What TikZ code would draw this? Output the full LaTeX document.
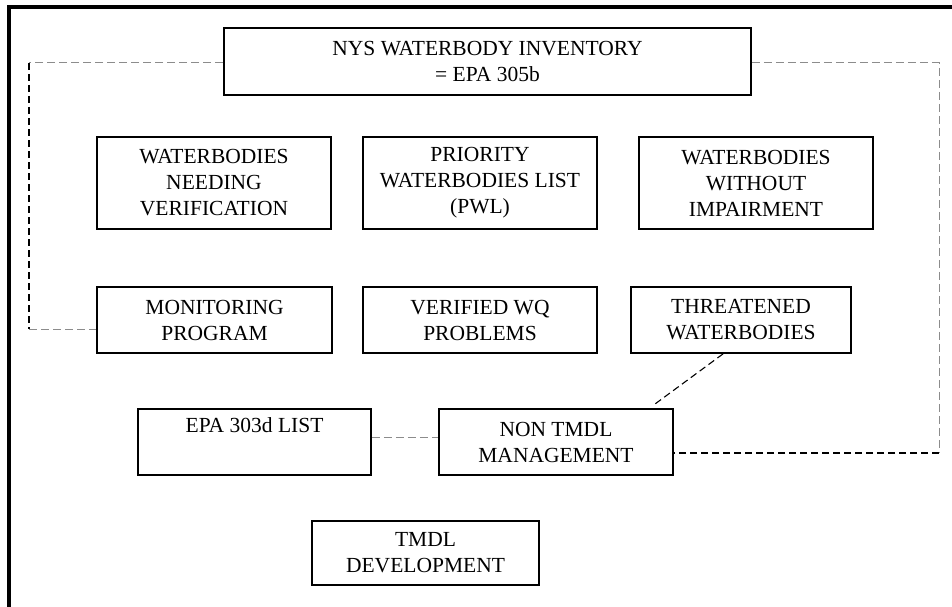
\documentclass[tikz,border=0pt]{standalone}
\usepackage{fontspec}
\setmainfont{Liberation Serif}
\begin{document}
\begin{tikzpicture}[x=1pt,y=-1pt,
  box/.style={draw=black,line width=1.8pt,rectangle,inner sep=0pt,align=center,
    font=\fontsize{21.5}{26}\selectfont},
  gconn/.style={draw=black!45,line width=1pt,dash pattern=on 8pt off 4pt},
  kconn/.style={draw=black,line width=1.1pt,dash pattern=on 7pt off 4pt},
  frame/.style={draw=black,line width=4pt}]
\useasboundingbox (0,0) rectangle (952,607);
% frame
\coordinate (fTL) at (9,7);
\coordinate (fTR) at (952,7);
\coordinate (fBL) at (9,607);
\draw[frame] (fTR) -- (fTL) -- (fBL);
% boxes
\node[box,minimum width=527,minimum height=67] (nys) at (487.5,61.5) {NYS WATERBODY INVENTORY\\= EPA 305b};
\node[box,minimum width=234,minimum height=92] (need) at (214,183) {WATERBODIES\\NEEDING\\VERIFICATION};
\node[box,minimum width=234,minimum height=92] (pwl) at (480,183) {PRIORITY\\WATERBODIES LIST\\(PWL)};
\node[box,minimum width=234,minimum height=92] (wo) at (756,183) {WATERBODIES\\WITHOUT\\IMPAIRMENT};
\node[box,minimum width=235,minimum height=66] (mon) at (214.5,320) {MONITORING\\PROGRAM};
\node[box,minimum width=234,minimum height=66] (ver) at (480,320) {VERIFIED WQ\\PROBLEMS};
\node[box,minimum width=220,minimum height=66] (thr) at (741,320) {THREATENED\\WATERBODIES};
\node[box,minimum width=233,minimum height=66] (epa) at (254.5,442) {EPA 303d LIST\\\strut};
\node[box,minimum width=234,minimum height=66] (non) at (556,442) {NON TMDL\\MANAGEMENT};
\node[box,minimum width=227,minimum height=64] (tmdl) at (425.5,553) {TMDL\\DEVELOPMENT};
% connectors
\coordinate (l1) at (29,63);
\coordinate (l2) at (29,329);
\draw[gconn] (nys.west |- l1) -- (l1);
\draw[kconn] (l1) -- (l2);
\draw[gconn] (l2) -- (mon.west |- l2);
\coordinate (r1) at (939,63);
\coordinate (r2) at (939,453);
\draw[gconn] (nys.east |- r1) -- (r1) -- (r2);
\draw[kconn] (r2) -- (non.east |- r2);
\coordinate (e1) at (300,437);
\draw[gconn] (epa.east |- e1) -- (non.west |- e1);
\coordinate (dA) at (723,0);
\coordinate (dB) at (655,404);
\draw[kconn] (thr.south -| dA) -- (dB);
\end{tikzpicture}
\end{document}
